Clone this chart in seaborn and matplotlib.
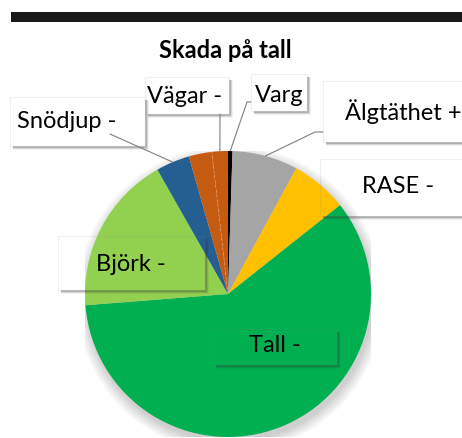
import matplotlib
matplotlib.use("Agg")
import matplotlib.pyplot as plt
import numpy as np
import seaborn as sns
from matplotlib.patches import Rectangle, Circle

sns.set_theme(style="white")
plt.rcParams['font.family'] = ['Lato', 'DejaVu Sans']

# andelar i procent, medurs från kl 12
faktorer = ["Varg", "Älgtäthet", "RASE", "Tall", "Björk", "Snödjup", "Övrigt", "Vägar"]
andel = [0.5, 7.4, 6.4, 59.3, 18.0, 3.8, 2.6, 1.8]
farger = ["#000000", "#A5A5A5", "#FFC000", "#00B050", "#92D050", "#255E91", "#C55A11", "#C55A11"]
etiketter = ["Varg", "Älgtäthet +", "RASE -", "Tall -", "Björk -", "Snödjup -", "", "Vägar -"]
titel = "Skada på tall"

# layout i pixlar: ruta (x0, y0, x1, y1), textposition, ankare, startpunkt för linje
layout = {
    "Varg": ((251, 75, 307, 112), (279, 96), "center", [(251, 103), (247, 103)]),
    "Älgtäthet": ((323, 82, 470, 143), (345, 112), "left", [(323, 133), (315, 133)]),
    "RASE": ((320, 160, 470, 217), (362, 187), "left", None),
    "Tall": ((213, 330, 337, 366), (275, 346), "center", None),
    "Björk": ((58, 237, 205, 291), (96, 265), "left", None),
    "Snödjup": ((10, 98, 145, 147), (17, 122), "left", [(110, 135)]),
    "Vägar": ((145, 78, 229, 115), (147, 97), "left", [(220, 115)]),
}

W, H = 462, 439
fig = plt.figure(figsize=(W / 100, H / 100), dpi=100)

cx, cy, r = 228, 295, 143
ax = fig.add_axes([(cx - r) / W, 1 - (cy + r) / H, 2 * r / W, 2 * r / H])

pal = sns.color_palette(farger)
wedges, _ = ax.pie(andel, colors=pal, startangle=90, counterclock=False,
                   wedgeprops=dict(linewidth=0))
for w in wedges:
    w.set_clip_on(False)

# mjuk skugga under cirkeln
for i in range(12):
    ax.add_patch(Circle((0.015, -0.035), 1.0 + 0.007 * i, color="black",
                        alpha=0.016, lw=0, zorder=0.5))

# ljus streckad linje mellan de två orange bitarna
t = np.deg2rad(wedges[-2].theta1)
ax.plot([0, np.cos(t)], [0, np.sin(t)], ls=(0, (4, 3)), color="#F4B183",
        lw=0.5, alpha=0.7, zorder=3)

ax.set_xlim(-1, 1)
ax.set_ylim(-1, 1)
ax.set_aspect("equal")
ax.axis("off")

ov = fig.add_axes([0, 0, 1, 1], zorder=5)
ov.set_xlim(0, W)
ov.set_ylim(H, 0)
ov.axis("off")
ov.patch.set_alpha(0)

ov.add_patch(Rectangle((11, 13), 460, 10, color="#1A1A1A", lw=0))
ov.text(225, 50, titel, ha="center", va="center", fontsize=17, fontweight="bold", color="black")


def till_pixel(x, y):
    return ov.transData.inverted().transform(ax.transData.transform((x, y)))


for w, namn, etikett in zip(wedges, faktorer, etiketter):
    if namn not in layout:
        continue
    (x0, y0, x1, y1), (tx, ty), ha, linje = layout[namn]
    # skugga nere till höger
    for k, a in [(1.0, 0.3), (2.2, 0.15), (3.4, 0.07)]:
        ov.plot([x0 + 3, x1 + k, x1 + k], [y1 + k, y1 + k, y0 + 3], color="#303030",
                alpha=a, lw=1.3, solid_capstyle="butt")
    ov.add_patch(Rectangle((x0, y0), x1 - x0, y1 - y0, fill=False, ec="#808080",
                           alpha=0.12, lw=0.8))
    ov.text(tx, ty, etikett, ha=ha, va="center", fontsize=17, color="black")
    if linje:
        mitt = np.deg2rad((w.theta1 + w.theta2) / 2)
        px, py = till_pixel(np.cos(mitt), np.sin(mitt))
        xs = [p[0] for p in linje] + [px]
        ys = [p[1] for p in linje] + [py]
        ov.plot(xs, ys, color="#7F7F7F", lw=0.8)

fig.savefig("out.png", dpi=100, facecolor="white")
